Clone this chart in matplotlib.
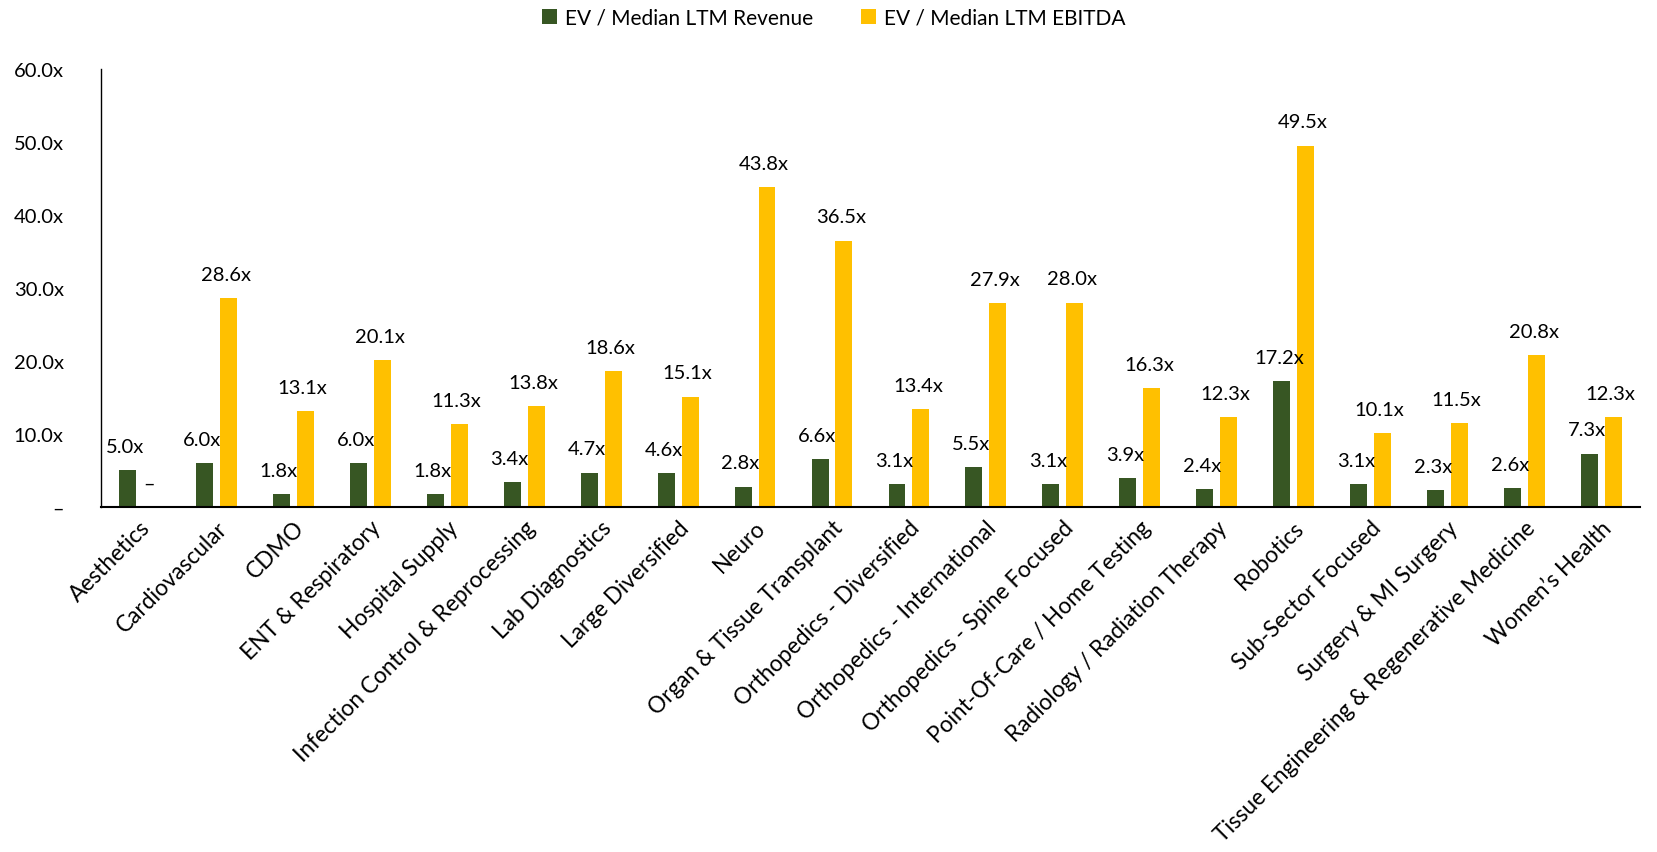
import numpy as np
import matplotlib
matplotlib.use("Agg")
import matplotlib.pyplot as plt
from matplotlib.ticker import FuncFormatter, MultipleLocator

categories = [
    "Aesthetics", "Cardiovascular", "CDMO", "ENT & Respiratory", "Hospital Supply",
    "Infection Control & Reprocessing", "Lab Diagnostics", "Large Diversified", "Neuro",
    "Organ & Tissue Transplant", "Orthopedics - Diversified", "Orthopedics - International",
    "Orthopedics - Spine Focused", "Point-Of-Care / Home Testing",
    "Radiology / Radiation Therapy", "Robotics", "Sub-Sector Focused",
    "Surgery & MI Surgery", "Tissue Engineering & Regenerative Medicine", "Women\u2019s Health",
]
ev_revenue = [5.0, 6.0, 1.8, 6.0, 1.8, 3.4, 4.7, 4.6, 2.8, 6.6, 3.1, 5.5, 3.1, 3.9, 2.4,
              17.2, 3.1, 2.3, 2.6, 7.3]
ev_ebitda = [None, 28.6, 13.1, 20.1, 11.3, 13.8, 18.6, 15.1, 43.8, 36.5, 13.4, 27.9, 28.0,
             16.3, 12.3, 49.5, 10.1, 11.5, 20.8, 12.3]
series_names = ["EV / Median LTM Revenue", "EV / Median LTM EBITDA"]

GREEN = "#375623"
YELLOW = "#FFC000"

plt.rcParams["font.family"] = ["Lato", "DejaVu Sans"]
FS = 14.5

fig = plt.figure(figsize=(16.58, 8.53), dpi=100)
ax = fig.add_axes([0.061, 0.4045, 0.928, 0.5135])

x = np.arange(len(categories))
w = 0.22
off = 0.155
rev = np.array(ev_revenue, dtype=float)
ebd = np.array([np.nan if v is None else v for v in ev_ebitda], dtype=float)

b1 = ax.bar(x - off, rev, w, color=GREEN, label=series_names[0])
b2 = ax.bar(x + off, np.nan_to_num(ebd), w, color=YELLOW, label=series_names[1])

# value labels above each bar; a missing EBITDA multiple is shown as a dash
for xi, v in zip(x - off, rev):
    ax.annotate(f"{v:.1f}x", (xi, v), xytext=(-2, 11), textcoords="offset points",
                ha="center", va="bottom", fontsize=FS)
for xi, v in zip(x + off, ebd):
    if np.isnan(v):
        ax.annotate("\u2013", (xi, 0), xytext=(-2, 11), textcoords="offset points",
                    ha="center", va="bottom", fontsize=FS)
    else:
        ax.annotate(f"{v:.1f}x", (xi, v), xytext=(-2, 11), textcoords="offset points",
                    ha="center", va="bottom", fontsize=FS)

ax.set_xlim(-0.5, len(categories) - 0.5)
ax.set_ylim(0, 60)
ax.yaxis.set_major_locator(MultipleLocator(10))
ax.yaxis.set_major_formatter(FuncFormatter(lambda v, p: "\u2013" if v == 0 else f"{v:.1f}x"))
ax.tick_params(axis="y", length=0, labelsize=FS, pad=27)
ax.tick_params(axis="x", length=0, pad=7)
ax.set_xticks(x)
ax.set_xticklabels(categories, rotation=45, ha="right", va="top",
                   rotation_mode="anchor", fontsize=16.3)

for s in ["top", "right"]:
    ax.spines[s].set_visible(False)
ax.spines["left"].set_linewidth(1.0)
ax.spines["bottom"].set_linewidth(1.5)

fig.legend(handles=[b1, b2], labels=series_names, loc="upper center",
           bbox_to_anchor=(0.503, 1.012), ncol=2, frameon=False, fontsize=15,
           handlelength=0.7, handleheight=0.7, handletextpad=0.4, columnspacing=2.3)

fig.savefig("out.png", dpi=100)
